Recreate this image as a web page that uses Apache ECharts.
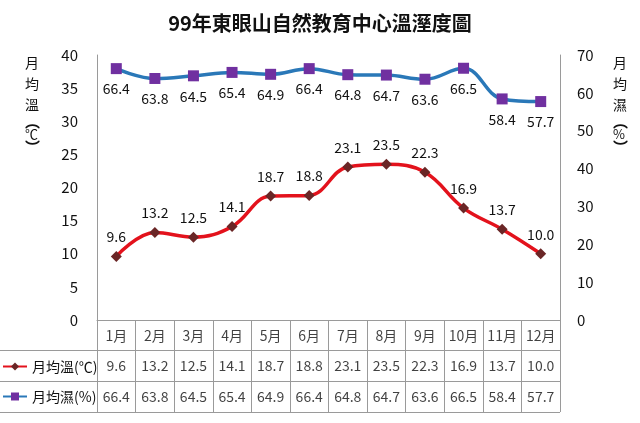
<!DOCTYPE html>
<html><head><meta charset="utf-8">
<script src="https://cdn.jsdelivr.net/npm/echarts@6/dist/echarts.min.js"></script>
<style>html,body{margin:0;padding:0;background:#fff}#c{width:640px;height:423px}</style>
</head><body><div id="c"></div>
<script>
const months = ['1月','2月','3月','4月','5月','6月','7月','8月','9月','10月','11月','12月'];
const temp = [9.6,13.2,12.5,14.1,18.7,18.8,23.1,23.5,22.3,16.9,13.7,10.0];
const hum = [66.4,63.8,64.5,65.4,64.9,66.4,64.8,64.7,63.6,66.5,58.4,57.7];
const tempName = '月均溫(℃)';
const humName = '月均濕(%)';
const titleText = '99年東眼山自然教育中心溫溼度圖';

const FONT = '"Noto Sans CJK TC", "Noto Sans", sans-serif';
const chart = echarts.init(document.getElementById('c'));
const tableData = [];
months.forEach((m,i)=>tableData.push([i,0,m]));
temp.forEach((v,i)=>tableData.push([i,1,v.toFixed(1)]));
hum.forEach((v,i)=>tableData.push([i,2,v.toFixed(1)]));
const gridLine = {show:true, lineStyle:{color:'#9a9a9a', width:1}};
const nameRich = {
  a:{fontSize:14, lineHeight:21, color:'#111', fontWeight:'normal', fontFamily:FONT},
  b:{fontSize:15, lineHeight:13, color:'#111', fontWeight:'bold', fontFamily:FONT},
  c:{fontSize:13, lineHeight:13, color:'#111', fontWeight:'normal', fontFamily:FONT}
};
chart.setOption({
  backgroundColor:'#fff',
  textStyle:{fontFamily:FONT},
  title:[
    {text:titleText, left:'center', top:8, textStyle:{fontSize:20, fontWeight:'bold', color:'#111', fontFamily:FONT}},
    {text:'{a|月}\n{a|均}\n{a|溫}\n{b|︵}\n{c|℃}\n{b|︶}', left:20, top:47, textStyle:{fontWeight:'normal', rich:nameRich}},
    {text:'{a|月}\n{a|均}\n{a|濕}\n{b|︵}\n{c|%}\n{b|︶}', left:608, top:47, textStyle:{fontWeight:'normal', rich:nameRich}}
  ],
  legend:{
    data:[tempName, humName], orient:'vertical', left:2, top:359, padding:0,
    itemWidth:24, itemHeight:10, itemGap:15,
    textStyle:{fontSize:14, color:'#111', lineHeight:15, fontFamily:FONT}
  },
  grid:[
    {left:97, right:80, top:55, height:265},
    {left:97, right:80, top:320, height:92},
    {left:0, width:97, top:320+92/3, height:92*2/3}
  ],
  xAxis:[
    {gridIndex:0, type:'category', data:months, boundaryGap:true,
     axisLine:{show:true, lineStyle:{color:'#9a9a9a'}}, axisTick:{show:false}, axisLabel:{show:false}},
    {gridIndex:1, type:'category', data:months, boundaryGap:true,
     axisLine:{show:false}, axisTick:{show:false}, axisLabel:{show:false}, splitLine:gridLine},
    {gridIndex:2, type:'value', show:false}
  ],
  yAxis:[
    {gridIndex:0, type:'value', min:0, max:40, interval:5,
     axisLine:{show:true, lineStyle:{color:'#9a9a9a'}}, axisTick:{show:false}, splitLine:{show:false},
     axisLabel:{fontSize:15, color:'#111', margin:19}},
    {gridIndex:0, type:'value', min:0, max:70, interval:10, position:'right',
     axisLine:{show:true, lineStyle:{color:'#9a9a9a'}}, axisTick:{show:false}, splitLine:{show:false},
     axisLabel:{fontSize:15, color:'#111', margin:17}},
    {gridIndex:1, type:'category', data:['m','t','h'], inverse:true,
     axisLine:{show:false}, axisTick:{show:false}, axisLabel:{show:false}, splitLine:gridLine},
    {gridIndex:2, type:'category', data:['t','h'], inverse:true,
     axisLine:{show:false}, axisTick:{show:false}, axisLabel:{show:false}, splitLine:gridLine}
  ],
  series:[
    {name:tempName, type:'line', xAxisIndex:0, yAxisIndex:0, data:temp, smooth:0.4,
     lineStyle:{color:'#e3121c', width:3.5}, symbol:'diamond', symbolSize:11,
     itemStyle:{color:'#6a2626'},
     label:{show:true, position:'top', distance:7, fontSize:14, color:'#111', formatter:p=>p.value.toFixed(1)}},
    {name:humName, type:'line', xAxisIndex:0, yAxisIndex:1, data:hum, smooth:0.4,
     lineStyle:{color:'#2a78b8', width:3.5}, symbol:'rect', symbolSize:11,
     itemStyle:{color:'#7030a0'},
     label:{show:true, position:'bottom', distance:8, fontSize:14, color:'#111', formatter:p=>p.value.toFixed(1)}},
    {name:'table', type:'scatter', xAxisIndex:1, yAxisIndex:2, data:tableData, symbolSize:1,
     itemStyle:{color:'rgba(0,0,0,0)'}, silent:true,
     label:{show:true, position:'inside', fontSize:14, color:'#111', formatter:p=>p.value[2]}}
  ]
});
</script></body></html>
